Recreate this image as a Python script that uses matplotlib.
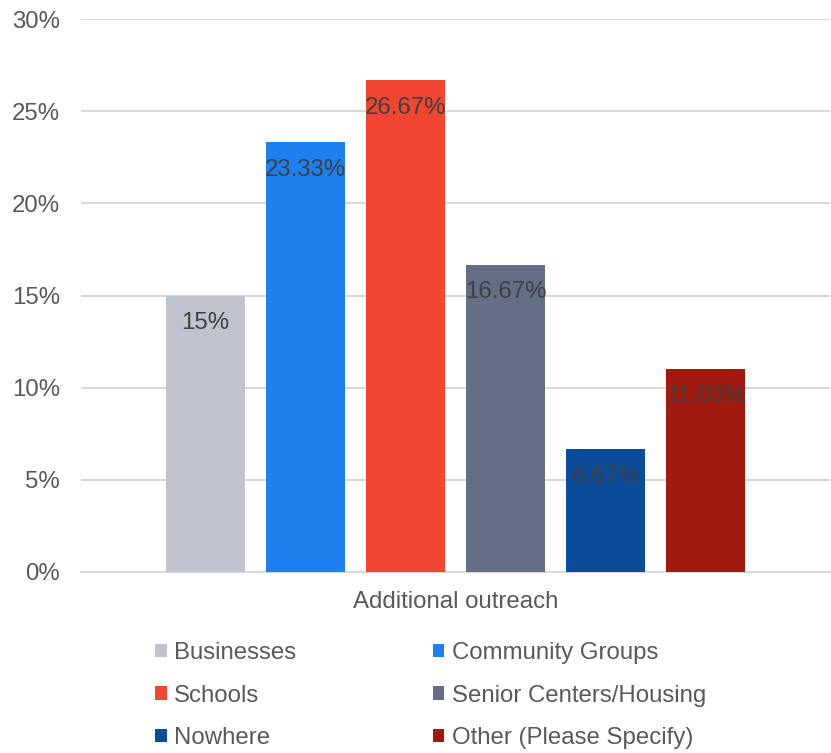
import matplotlib
matplotlib.use('Agg')
import matplotlib.pyplot as plt
import numpy as np

plt.rcParams['font.family'] = ['Liberation Sans', 'DejaVu Sans']

category = "Additional outreach"
series = ["Businesses", "Community Groups", "Schools",
          "Senior Centers/Housing", "Nowhere", "Other (Please Specify)"]
values = [15, 23.33, 26.67, 16.67, 6.67, 11.03]
colors = ["#bec3cd", "#1e7fee", "#f04632", "#646f87", "#0a4c9a", "#a01a10"]
yticks = [0, 5, 10, 15, 20, 25, 30]

fig = plt.figure(figsize=(8.31, 7.53), dpi=100)
ax = fig.add_axes([81/831, 1 - 572/753, 749/831, (572 - 19)/753])

n = len(values)
offsets = np.arange(n) - (n - 1) / 2
handles = []
for i, (name, v, c) in enumerate(zip(series, values, colors)):
    b = ax.bar(offsets[i], v, width=0.79, color=c, label=name, zorder=3)
    handles.append(b)
    ax.annotate(f"{v:g}%", (offsets[i], v), xytext=(0, -12),
                textcoords='offset points', ha='center', va='top',
                fontsize=17.3, color='#404040', zorder=4)

ax.set_xlim(-3.745, 3.745)
ax.set_ylim(0, 30)
ax.set_yticks(yticks)
ax.set_yticklabels([f"{t}%" for t in yticks])
ax.set_xticks([0])
ax.set_xticklabels([category])
ax.tick_params(axis='both', length=0, labelsize=17.3, labelcolor='#595959')
ax.tick_params(axis='y', pad=15)
ax.tick_params(axis='x', pad=14)
ax.yaxis.grid(True, color='#d9d9d9', linewidth=1.5, zorder=0)
for s in ['top', 'right', 'left']:
    ax.spines[s].set_visible(False)
ax.spines['bottom'].set_color('#d9d9d9')
ax.spines['bottom'].set_linewidth(1.5)

order = [0, 2, 4, 1, 3, 5]
leg = fig.legend([handles[i] for i in order], [series[i] for i in order],
                 ncol=2, loc='upper left', bbox_to_anchor=(155/831, 1 - 642/753),
                 frameon=False, fontsize=17.3, handlelength=0.48, handleheight=0.48,
                 handletextpad=0.3, columnspacing=5.7, labelspacing=0.86,
                 borderaxespad=0, borderpad=0)
for t in leg.get_texts():
    t.set_color('#595959')

fig.savefig('out.png', dpi=100)
